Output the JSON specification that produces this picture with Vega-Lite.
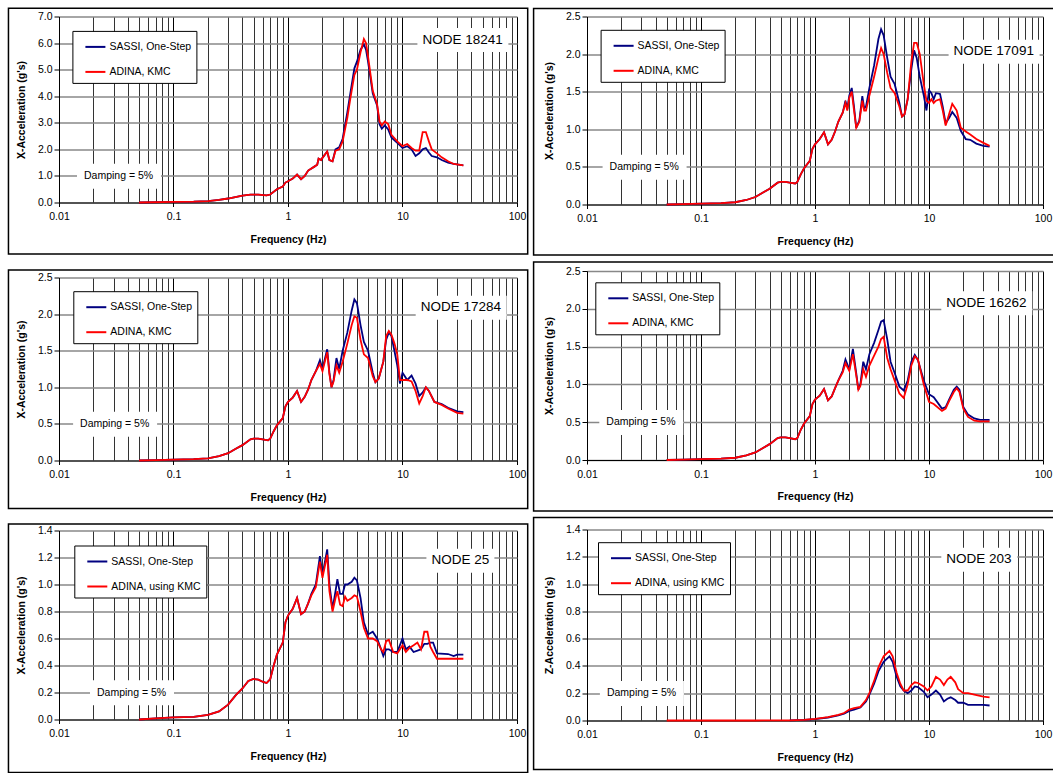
{
  "$schema": "https://vega.github.io/schema/vega-lite/v6.json",
  "background": "white",
  "padding": {"left": 7, "top": 6.5, "right": 0, "bottom": 0},
  "config": {
    "font": "Liberation Sans",
    "view": {"stroke": null},
    "axis": {"labelFont": "Liberation Sans", "labelFontSize": 10.5, "labelColor": "#000", "titleFont": "Liberation Sans", "titleFontSize": 10.5, "titleFontWeight": "bold", "titleColor": "#000", "domainColor": "#000", "domainWidth": 1, "tickColor": "#000", "labelFlush": false, "labelOverlap": false},
    "axisX": {"tickSize": 4, "labelPadding": 5, "titlePadding": 12, "gridWidth": 1},
    "axisY": {"tickSize": 5, "labelPadding": 2, "titlePadding": 11, "gridColor": "#888", "gridWidth": 1.5},
    "legend": {"labelFont": "Liberation Sans", "labelColor": "#000"}
  },
  "datasets": {
    "p1s": [{"f":0.05,"g":0},{"f":0.1,"g":0.02},{"f":0.15,"g":0.03},{"f":0.2,"g":0.05},{"f":0.25,"g":0.1},{"f":0.3,"g":0.15},{"f":0.4,"g":0.26},{"f":0.47,"g":0.3},{"f":0.55,"g":0.3},{"f":0.65,"g":0.27},{"f":0.7,"g":0.3},{"f":0.8,"g":0.5},{"f":0.9,"g":0.6},{"f":0.95,"g":0.75},{"f":1.0,"g":0.8},{"f":1.1,"g":0.9},{"f":1.2,"g":1.05},{"f":1.3,"g":0.88},{"f":1.4,"g":1.0},{"f":1.5,"g":1.2},{"f":1.7,"g":1.35},{"f":1.8,"g":1.42},{"f":1.85,"g":1.65},{"f":1.95,"g":1.6},{"f":2.0,"g":1.68},{"f":2.2,"g":1.92},{"f":2.3,"g":1.6},{"f":2.45,"g":1.55},{"f":2.6,"g":2.0},{"f":2.8,"g":2.08},{"f":3.0,"g":2.4},{"f":3.3,"g":3.4},{"f":3.5,"g":4.1},{"f":3.8,"g":5.05},{"f":4.0,"g":5.3},{"f":4.3,"g":5.75},{"f":4.6,"g":5.95},{"f":4.8,"g":5.75},{"f":5.0,"g":5.3},{"f":5.5,"g":4.1},{"f":6.0,"g":3.65},{"f":6.3,"g":2.95},{"f":6.6,"g":2.78},{"f":7.0,"g":2.9},{"f":7.5,"g":2.75},{"f":8.0,"g":2.45},{"f":9.0,"g":2.25},{"f":10,"g":2.05},{"f":11,"g":2.12},{"f":12,"g":2.0},{"f":13,"g":1.75},{"f":14,"g":1.85},{"f":15,"g":2.0},{"f":16,"g":2.05},{"f":17,"g":1.88},{"f":18,"g":1.75},{"f":20,"g":1.7},{"f":22,"g":1.6},{"f":25,"g":1.5},{"f":28,"g":1.45},{"f":34,"g":1.4}],
    "p1a": [{"f":0.05,"g":0},{"f":0.1,"g":0.02},{"f":0.15,"g":0.03},{"f":0.2,"g":0.05},{"f":0.25,"g":0.1},{"f":0.3,"g":0.15},{"f":0.4,"g":0.26},{"f":0.47,"g":0.3},{"f":0.55,"g":0.3},{"f":0.65,"g":0.27},{"f":0.7,"g":0.3},{"f":0.8,"g":0.5},{"f":0.9,"g":0.6},{"f":0.95,"g":0.75},{"f":1.0,"g":0.8},{"f":1.1,"g":0.9},{"f":1.2,"g":1.05},{"f":1.3,"g":0.88},{"f":1.4,"g":1.0},{"f":1.5,"g":1.2},{"f":1.7,"g":1.35},{"f":1.8,"g":1.42},{"f":1.85,"g":1.65},{"f":1.95,"g":1.6},{"f":2.0,"g":1.68},{"f":2.2,"g":1.92},{"f":2.3,"g":1.6},{"f":2.45,"g":1.55},{"f":2.6,"g":1.95},{"f":2.8,"g":2.0},{"f":3.0,"g":2.3},{"f":3.3,"g":3.2},{"f":3.5,"g":3.9},{"f":3.8,"g":4.8},{"f":4.0,"g":5.0},{"f":4.3,"g":5.65},{"f":4.6,"g":6.15},{"f":4.8,"g":6.0},{"f":5.0,"g":5.5},{"f":5.5,"g":4.2},{"f":6.0,"g":3.7},{"f":6.3,"g":3.05},{"f":6.6,"g":2.9},{"f":7.0,"g":3.05},{"f":7.5,"g":2.95},{"f":8.0,"g":2.55},{"f":9.0,"g":2.3},{"f":10,"g":2.12},{"f":11,"g":2.2},{"f":12,"g":2.05},{"f":13,"g":1.95},{"f":14,"g":1.95},{"f":15,"g":2.65},{"f":16,"g":2.65},{"f":17,"g":2.3},{"f":18,"g":2.0},{"f":20,"g":1.85},{"f":22,"g":1.7},{"f":25,"g":1.55},{"f":28,"g":1.45},{"f":34,"g":1.4}],
    "p2s": [{"f":0.05,"g":0},{"f":0.07,"g":0.005},{"f":0.1,"g":0.012},{"f":0.15,"g":0.018},{"f":0.2,"g":0.03},{"f":0.25,"g":0.06},{"f":0.3,"g":0.1},{"f":0.35,"g":0.16},{"f":0.4,"g":0.21},{"f":0.47,"g":0.29},{"f":0.5,"g":0.3},{"f":0.55,"g":0.3},{"f":0.6,"g":0.29},{"f":0.67,"g":0.28},{"f":0.7,"g":0.3},{"f":0.75,"g":0.4},{"f":0.8,"g":0.48},{"f":0.9,"g":0.58},{"f":0.95,"g":0.74},{"f":1.0,"g":0.8},{"f":1.1,"g":0.87},{"f":1.2,"g":0.96},{"f":1.3,"g":0.8},{"f":1.4,"g":0.86},{"f":1.5,"g":0.97},{"f":1.6,"g":1.1},{"f":1.75,"g":1.22},{"f":1.85,"g":1.38},{"f":1.92,"g":1.27},{"f":2.0,"g":1.45},{"f":2.1,"g":1.55},{"f":2.2,"g":1.3},{"f":2.3,"g":1.02},{"f":2.45,"g":1.12},{"f":2.6,"g":1.44},{"f":2.7,"g":1.28},{"f":2.8,"g":1.3},{"f":3.0,"g":1.55},{"f":3.3,"g":1.85},{"f":3.6,"g":2.2},{"f":3.8,"g":2.33},{"f":4.0,"g":2.25},{"f":4.3,"g":1.95},{"f":4.6,"g":1.7},{"f":5.0,"g":1.6},{"f":5.5,"g":1.35},{"f":5.8,"g":1.17},{"f":6.1,"g":1.2},{"f":6.5,"g":1.4},{"f":7.0,"g":1.8},{"f":7.4,"g":2.05},{"f":7.8,"g":1.95},{"f":8.3,"g":1.7},{"f":9.0,"g":1.45},{"f":9.5,"g":1.25},{"f":10,"g":1.52},{"f":10.5,"g":1.48},{"f":11,"g":1.4},{"f":11.5,"g":1.48},{"f":12.5,"g":1.47},{"f":13.2,"g":1.3},{"f":14,"g":1.08},{"f":15,"g":1.15},{"f":16,"g":1.23},{"f":17.5,"g":1.15},{"f":19,"g":0.98},{"f":21,"g":0.87},{"f":23,"g":0.86},{"f":26,"g":0.81},{"f":30,"g":0.78},{"f":34,"g":0.77}],
    "p2a": [{"f":0.05,"g":0},{"f":0.07,"g":0.005},{"f":0.1,"g":0.012},{"f":0.15,"g":0.018},{"f":0.2,"g":0.03},{"f":0.25,"g":0.06},{"f":0.3,"g":0.1},{"f":0.35,"g":0.16},{"f":0.4,"g":0.21},{"f":0.47,"g":0.29},{"f":0.5,"g":0.3},{"f":0.55,"g":0.3},{"f":0.6,"g":0.29},{"f":0.67,"g":0.28},{"f":0.7,"g":0.3},{"f":0.75,"g":0.4},{"f":0.8,"g":0.48},{"f":0.9,"g":0.58},{"f":0.95,"g":0.74},{"f":1.0,"g":0.8},{"f":1.1,"g":0.87},{"f":1.2,"g":0.96},{"f":1.3,"g":0.8},{"f":1.4,"g":0.86},{"f":1.5,"g":0.97},{"f":1.6,"g":1.1},{"f":1.75,"g":1.22},{"f":1.85,"g":1.35},{"f":1.92,"g":1.25},{"f":2.0,"g":1.42},{"f":2.1,"g":1.5},{"f":2.2,"g":1.25},{"f":2.3,"g":1.02},{"f":2.45,"g":1.1},{"f":2.6,"g":1.38},{"f":2.7,"g":1.25},{"f":2.8,"g":1.25},{"f":3.0,"g":1.45},{"f":3.3,"g":1.7},{"f":3.6,"g":1.95},{"f":3.8,"g":2.08},{"f":4.0,"g":2.0},{"f":4.3,"g":1.75},{"f":4.6,"g":1.55},{"f":5.0,"g":1.48},{"f":5.5,"g":1.3},{"f":5.8,"g":1.17},{"f":6.1,"g":1.2},{"f":6.5,"g":1.4},{"f":7.0,"g":1.9},{"f":7.4,"g":2.15},{"f":7.8,"g":2.15},{"f":8.3,"g":2.0},{"f":9.0,"g":1.6},{"f":9.5,"g":1.38},{"f":10,"g":1.35},{"f":10.5,"g":1.4},{"f":11,"g":1.35},{"f":11.5,"g":1.38},{"f":12.5,"g":1.4},{"f":13.2,"g":1.25},{"f":14,"g":1.05},{"f":15,"g":1.2},{"f":16,"g":1.34},{"f":17.5,"g":1.25},{"f":19,"g":1.02},{"f":21,"g":0.97},{"f":23,"g":0.93},{"f":26,"g":0.87},{"f":30,"g":0.82},{"f":34,"g":0.78}],
    "p3s": [{"f":0.05,"g":0},{"f":0.07,"g":0.005},{"f":0.1,"g":0.012},{"f":0.15,"g":0.018},{"f":0.2,"g":0.03},{"f":0.25,"g":0.06},{"f":0.3,"g":0.1},{"f":0.35,"g":0.16},{"f":0.4,"g":0.21},{"f":0.47,"g":0.29},{"f":0.5,"g":0.3},{"f":0.55,"g":0.3},{"f":0.6,"g":0.29},{"f":0.67,"g":0.275},{"f":0.7,"g":0.3},{"f":0.75,"g":0.4},{"f":0.8,"g":0.48},{"f":0.9,"g":0.58},{"f":0.95,"g":0.74},{"f":1.0,"g":0.8},{"f":1.1,"g":0.86},{"f":1.2,"g":0.95},{"f":1.3,"g":0.8},{"f":1.4,"g":0.87},{"f":1.5,"g":0.97},{"f":1.6,"g":1.1},{"f":1.75,"g":1.22},{"f":1.9,"g":1.37},{"f":2.0,"g":1.25},{"f":2.2,"g":1.52},{"f":2.3,"g":1.2},{"f":2.4,"g":1.0},{"f":2.5,"g":1.1},{"f":2.65,"g":1.4},{"f":2.8,"g":1.25},{"f":3.0,"g":1.5},{"f":3.3,"g":1.75},{"f":3.6,"g":2.05},{"f":3.8,"g":2.2},{"f":4.0,"g":2.15},{"f":4.3,"g":1.85},{"f":4.6,"g":1.62},{"f":5.0,"g":1.5},{"f":5.5,"g":1.2},{"f":5.8,"g":1.07},{"f":6.2,"g":1.12},{"f":6.8,"g":1.35},{"f":7.2,"g":1.65},{"f":7.6,"g":1.75},{"f":8.0,"g":1.7},{"f":8.5,"g":1.5},{"f":9.0,"g":1.3},{"f":9.5,"g":1.05},{"f":10,"g":1.2},{"f":11,"g":1.1},{"f":12,"g":1.16},{"f":13,"g":1.05},{"f":14,"g":0.88},{"f":15,"g":0.93},{"f":16,"g":1.0},{"f":17,"g":0.95},{"f":19,"g":0.8},{"f":22,"g":0.77},{"f":25,"g":0.72},{"f":30,"g":0.67},{"f":34,"g":0.66}],
    "p3a": [{"f":0.05,"g":0},{"f":0.07,"g":0.005},{"f":0.1,"g":0.012},{"f":0.15,"g":0.018},{"f":0.2,"g":0.03},{"f":0.25,"g":0.06},{"f":0.3,"g":0.1},{"f":0.35,"g":0.16},{"f":0.4,"g":0.21},{"f":0.47,"g":0.29},{"f":0.5,"g":0.3},{"f":0.55,"g":0.3},{"f":0.6,"g":0.29},{"f":0.67,"g":0.275},{"f":0.7,"g":0.3},{"f":0.75,"g":0.4},{"f":0.8,"g":0.48},{"f":0.9,"g":0.58},{"f":0.95,"g":0.74},{"f":1.0,"g":0.8},{"f":1.1,"g":0.86},{"f":1.2,"g":0.95},{"f":1.3,"g":0.8},{"f":1.4,"g":0.87},{"f":1.5,"g":0.97},{"f":1.6,"g":1.1},{"f":1.75,"g":1.22},{"f":1.9,"g":1.32},{"f":2.0,"g":1.22},{"f":2.2,"g":1.48},{"f":2.3,"g":1.18},{"f":2.4,"g":1.0},{"f":2.5,"g":1.08},{"f":2.65,"g":1.3},{"f":2.8,"g":1.2},{"f":3.0,"g":1.35},{"f":3.3,"g":1.6},{"f":3.6,"g":1.85},{"f":3.8,"g":1.97},{"f":4.0,"g":1.95},{"f":4.3,"g":1.65},{"f":4.6,"g":1.45},{"f":5.0,"g":1.4},{"f":5.5,"g":1.15},{"f":5.8,"g":1.07},{"f":6.2,"g":1.12},{"f":6.8,"g":1.35},{"f":7.2,"g":1.7},{"f":7.6,"g":1.77},{"f":8.0,"g":1.72},{"f":8.5,"g":1.6},{"f":9.0,"g":1.45},{"f":9.5,"g":1.1},{"f":10,"g":1.1},{"f":11,"g":1.1},{"f":12,"g":1.08},{"f":13,"g":0.95},{"f":14,"g":0.78},{"f":15,"g":0.88},{"f":16,"g":1.0},{"f":17,"g":0.95},{"f":19,"g":0.8},{"f":22,"g":0.76},{"f":25,"g":0.71},{"f":30,"g":0.65},{"f":34,"g":0.64}],
    "p4s": [{"f":0.05,"g":0},{"f":0.07,"g":0.005},{"f":0.1,"g":0.012},{"f":0.15,"g":0.018},{"f":0.2,"g":0.03},{"f":0.25,"g":0.06},{"f":0.3,"g":0.1},{"f":0.35,"g":0.16},{"f":0.4,"g":0.21},{"f":0.47,"g":0.29},{"f":0.5,"g":0.3},{"f":0.55,"g":0.3},{"f":0.6,"g":0.29},{"f":0.67,"g":0.275},{"f":0.7,"g":0.29},{"f":0.75,"g":0.4},{"f":0.8,"g":0.48},{"f":0.9,"g":0.58},{"f":0.95,"g":0.74},{"f":1.0,"g":0.8},{"f":1.1,"g":0.85},{"f":1.2,"g":0.94},{"f":1.3,"g":0.79},{"f":1.4,"g":0.84},{"f":1.5,"g":0.95},{"f":1.6,"g":1.05},{"f":1.75,"g":1.18},{"f":1.85,"g":1.33},{"f":2.0,"g":1.2},{"f":2.15,"g":1.47},{"f":2.3,"g":1.15},{"f":2.4,"g":0.93},{"f":2.5,"g":1.0},{"f":2.65,"g":1.3},{"f":2.8,"g":1.2},{"f":3.0,"g":1.4},{"f":3.3,"g":1.55},{"f":3.6,"g":1.72},{"f":3.8,"g":1.83},{"f":4.0,"g":1.85},{"f":4.3,"g":1.6},{"f":4.6,"g":1.3},{"f":5.0,"g":1.15},{"f":5.5,"g":0.97},{"f":6.0,"g":0.92},{"f":6.5,"g":1.05},{"f":7.0,"g":1.3},{"f":7.5,"g":1.39},{"f":8.0,"g":1.32},{"f":9.0,"g":1.05},{"f":10,"g":0.87},{"f":11,"g":0.83},{"f":13,"g":0.68},{"f":14,"g":0.7},{"f":15,"g":0.8},{"f":16.5,"g":0.93},{"f":17.5,"g":0.97},{"f":18.5,"g":0.93},{"f":20,"g":0.7},{"f":22,"g":0.6},{"f":25,"g":0.55},{"f":28,"g":0.53},{"f":34,"g":0.53}],
    "p4a": [{"f":0.05,"g":0},{"f":0.07,"g":0.005},{"f":0.1,"g":0.012},{"f":0.15,"g":0.018},{"f":0.2,"g":0.03},{"f":0.25,"g":0.06},{"f":0.3,"g":0.1},{"f":0.35,"g":0.16},{"f":0.4,"g":0.21},{"f":0.47,"g":0.29},{"f":0.5,"g":0.3},{"f":0.55,"g":0.3},{"f":0.6,"g":0.29},{"f":0.67,"g":0.275},{"f":0.7,"g":0.29},{"f":0.75,"g":0.4},{"f":0.8,"g":0.48},{"f":0.9,"g":0.58},{"f":0.95,"g":0.74},{"f":1.0,"g":0.8},{"f":1.1,"g":0.85},{"f":1.2,"g":0.94},{"f":1.3,"g":0.79},{"f":1.4,"g":0.84},{"f":1.5,"g":0.95},{"f":1.6,"g":1.05},{"f":1.75,"g":1.16},{"f":1.85,"g":1.28},{"f":2.0,"g":1.18},{"f":2.15,"g":1.4},{"f":2.3,"g":1.12},{"f":2.4,"g":0.93},{"f":2.5,"g":0.98},{"f":2.65,"g":1.2},{"f":2.8,"g":1.1},{"f":3.0,"g":1.25},{"f":3.3,"g":1.38},{"f":3.6,"g":1.5},{"f":3.8,"g":1.6},{"f":4.0,"g":1.63},{"f":4.3,"g":1.35},{"f":4.6,"g":1.2},{"f":5.0,"g":1.05},{"f":5.5,"g":0.88},{"f":6.0,"g":0.82},{"f":6.5,"g":1.0},{"f":7.0,"g":1.25},{"f":7.5,"g":1.37},{"f":8.0,"g":1.33},{"f":9.0,"g":1.0},{"f":10,"g":0.77},{"f":11,"g":0.74},{"f":13,"g":0.65},{"f":14,"g":0.68},{"f":15,"g":0.78},{"f":16.5,"g":0.9},{"f":17.5,"g":0.95},{"f":18.5,"g":0.9},{"f":20,"g":0.68},{"f":22,"g":0.57},{"f":25,"g":0.52},{"f":28,"g":0.51},{"f":34,"g":0.51}],
    "p5s": [{"f":0.05,"g":0},{"f":0.07,"g":0.008},{"f":0.1,"g":0.015},{"f":0.15,"g":0.02},{"f":0.2,"g":0.035},{"f":0.25,"g":0.06},{"f":0.3,"g":0.11},{"f":0.35,"g":0.18},{"f":0.4,"g":0.23},{"f":0.45,"g":0.285},{"f":0.5,"g":0.3},{"f":0.55,"g":0.295},{"f":0.6,"g":0.28},{"f":0.65,"g":0.27},{"f":0.7,"g":0.3},{"f":0.75,"g":0.4},{"f":0.8,"g":0.48},{"f":0.9,"g":0.57},{"f":0.95,"g":0.72},{"f":1.0,"g":0.77},{"f":1.1,"g":0.82},{"f":1.2,"g":0.9},{"f":1.3,"g":0.78},{"f":1.4,"g":0.8},{"f":1.5,"g":0.86},{"f":1.6,"g":0.93},{"f":1.75,"g":1.0},{"f":1.9,"g":1.21},{"f":2.0,"g":1.07},{"f":2.2,"g":1.26},{"f":2.3,"g":1.0},{"f":2.45,"g":0.82},{"f":2.6,"g":0.95},{"f":2.7,"g":1.04},{"f":2.85,"g":0.93},{"f":3.0,"g":0.93},{"f":3.15,"g":1.0},{"f":3.3,"g":1.0},{"f":3.6,"g":1.02},{"f":3.8,"g":1.05},{"f":4.0,"g":1.03},{"f":4.3,"g":0.9},{"f":4.6,"g":0.72},{"f":5.0,"g":0.63},{"f":5.5,"g":0.65},{"f":6.0,"g":0.6},{"f":6.5,"g":0.52},{"f":6.8,"g":0.47},{"f":7.2,"g":0.52},{"f":7.6,"g":0.52},{"f":8.3,"g":0.5},{"f":9.0,"g":0.5},{"f":10,"g":0.6},{"f":10.7,"g":0.52},{"f":11.5,"g":0.54},{"f":12.5,"g":0.5},{"f":13.5,"g":0.51},{"f":14.5,"g":0.52},{"f":15.5,"g":0.56},{"f":16.5,"g":0.56},{"f":17.5,"g":0.57},{"f":18.5,"g":0.57},{"f":20,"g":0.49},{"f":25,"g":0.485},{"f":28,"g":0.47},{"f":30,"g":0.48},{"f":34,"g":0.48}],
    "p5a": [{"f":0.05,"g":0},{"f":0.07,"g":0.008},{"f":0.1,"g":0.015},{"f":0.15,"g":0.02},{"f":0.2,"g":0.035},{"f":0.25,"g":0.06},{"f":0.3,"g":0.11},{"f":0.35,"g":0.18},{"f":0.4,"g":0.23},{"f":0.45,"g":0.285},{"f":0.5,"g":0.3},{"f":0.55,"g":0.295},{"f":0.6,"g":0.28},{"f":0.65,"g":0.27},{"f":0.7,"g":0.3},{"f":0.75,"g":0.4},{"f":0.8,"g":0.48},{"f":0.9,"g":0.57},{"f":0.95,"g":0.72},{"f":1.0,"g":0.77},{"f":1.1,"g":0.82},{"f":1.2,"g":0.9},{"f":1.3,"g":0.78},{"f":1.4,"g":0.8},{"f":1.5,"g":0.86},{"f":1.6,"g":0.92},{"f":1.75,"g":0.98},{"f":1.9,"g":1.17},{"f":2.0,"g":1.05},{"f":2.2,"g":1.22},{"f":2.3,"g":0.95},{"f":2.45,"g":0.8},{"f":2.6,"g":0.9},{"f":2.7,"g":0.95},{"f":2.85,"g":0.85},{"f":3.0,"g":0.84},{"f":3.15,"g":0.91},{"f":3.3,"g":0.88},{"f":3.6,"g":0.9},{"f":3.8,"g":0.92},{"f":4.0,"g":0.91},{"f":4.3,"g":0.8},{"f":4.6,"g":0.68},{"f":5.0,"g":0.6},{"f":5.5,"g":0.6},{"f":6.0,"g":0.58},{"f":6.5,"g":0.52},{"f":6.8,"g":0.5},{"f":7.2,"g":0.58},{"f":7.6,"g":0.59},{"f":8.3,"g":0.5},{"f":9.0,"g":0.49},{"f":10,"g":0.55},{"f":10.7,"g":0.5},{"f":11.5,"g":0.53},{"f":12.5,"g":0.55},{"f":13.5,"g":0.57},{"f":14.5,"g":0.52},{"f":15.5,"g":0.65},{"f":16.5,"g":0.65},{"f":17.5,"g":0.54},{"f":18.5,"g":0.5},{"f":20,"g":0.45},{"f":25,"g":0.45},{"f":28,"g":0.45},{"f":30,"g":0.45},{"f":34,"g":0.45}],
    "p6s": [{"f":0.6,"g":0.001},{"f":0.8,"g":0.005},{"f":1.0,"g":0.01},{"f":1.3,"g":0.022},{"f":1.6,"g":0.038},{"f":1.8,"g":0.05},{"f":2.0,"g":0.07},{"f":2.2,"g":0.08},{"f":2.5,"g":0.095},{"f":2.8,"g":0.14},{"f":3.0,"g":0.19},{"f":3.3,"g":0.27},{"f":3.6,"g":0.36},{"f":4.0,"g":0.43},{"f":4.5,"g":0.47},{"f":4.8,"g":0.43},{"f":5.2,"g":0.32},{"f":5.6,"g":0.25},{"f":6.0,"g":0.22},{"f":6.5,"g":0.2},{"f":7.0,"g":0.22},{"f":7.5,"g":0.25},{"f":8.0,"g":0.245},{"f":9.0,"g":0.21},{"f":9.7,"g":0.17},{"f":10.5,"g":0.19},{"f":11.5,"g":0.22},{"f":12.5,"g":0.19},{"f":13.5,"g":0.14},{"f":14.5,"g":0.16},{"f":15.5,"g":0.17},{"f":17,"g":0.15},{"f":18,"g":0.13},{"f":20,"g":0.13},{"f":22,"g":0.115},{"f":25,"g":0.115},{"f":30,"g":0.115},{"f":34,"g":0.11}],
    "p6a": [{"f":0.05,"g":0},{"f":0.3,"g":0},{"f":0.6,"g":0.001},{"f":0.8,"g":0.005},{"f":1.0,"g":0.012},{"f":1.3,"g":0.025},{"f":1.6,"g":0.042},{"f":1.8,"g":0.055},{"f":2.0,"g":0.08},{"f":2.2,"g":0.09},{"f":2.5,"g":0.1},{"f":2.8,"g":0.15},{"f":3.0,"g":0.2},{"f":3.3,"g":0.29},{"f":3.6,"g":0.39},{"f":4.0,"g":0.47},{"f":4.5,"g":0.51},{"f":4.8,"g":0.47},{"f":5.2,"g":0.35},{"f":5.6,"g":0.27},{"f":6.0,"g":0.22},{"f":6.5,"g":0.22},{"f":7.0,"g":0.26},{"f":7.5,"g":0.28},{"f":8.0,"g":0.275},{"f":9.0,"g":0.25},{"f":9.7,"g":0.22},{"f":10.5,"g":0.25},{"f":11.5,"g":0.32},{"f":12.5,"g":0.3},{"f":13.5,"g":0.26},{"f":14.5,"g":0.3},{"f":15.5,"g":0.32},{"f":17,"g":0.28},{"f":18,"g":0.23},{"f":20,"g":0.2},{"f":22,"g":0.2},{"f":25,"g":0.19},{"f":30,"g":0.175},{"f":34,"g":0.17}]
  },
  "resolve": {"scale": {"color": "independent", "opacity": "independent", "strokeWidth": "independent"}, "legend": {"color": "independent", "opacity": "independent", "strokeWidth": "independent"}},
  "spacing": 3,
  "hconcat": [
    {
      "spacing": 13,
      "resolve": {"scale": {"color": "independent", "opacity": "independent", "strokeWidth": "independent"}, "legend": {"color": "independent", "opacity": "independent", "strokeWidth": "independent"}},
      "vconcat": [
        {
          "width": 458, "height": 186,
          "layer": [
            {"data": {"name": "p1s"}, "mark": {"type": "line", "strokeWidth": 1.8},
             "encoding": {
               "x": {"field": "f", "type": "quantitative", "scale": {"type": "log", "domain": [0.01, 100]}, "axis": {"title": "Frequency (Hz)", "values": [0.01,0.02,0.03,0.04,0.05,0.06,0.07,0.08,0.09,0.1,0.2,0.3,0.4,0.5,0.6,0.7,0.8,0.9,1,2,3,4,5,6,7,8,9,10,20,30,40,50,60,70,80,90,100], "format": "~g", "labelExpr": "indexof([0.01,0.1,1,10,100], datum.value) >= 0 ? datum.label : ''", "tickOpacity": {"condition": {"test": "indexof([0.01,0.1,1,10,100], datum.value) >= 0", "value": 1}, "value": 0}, "gridColor": {"condition": {"test": "indexof([0.01,0.1,1,10,100], datum.value) >= 0", "value": "#000"}, "value": "#333"}}},
               "y": {"field": "g", "type": "quantitative", "scale": {"domain": [0, 7]}, "axis": {"title": "X-Acceleration (g's)", "values": [0,1,2,3,4,5,6,7], "tickCount": 10, "format": ".1f"}},
               "color": {"datum": "SASSI, One-Step", "scale": {"domain": ["SASSI, One-Step", "ADINA, KMC"], "range": ["#000080", "#ff0000"]}, "legend": {"title": null, "orient": "none", "legendX": 13.4, "legendY": 14.4, "fillColor": "#fff", "strokeColor": "#000", "padding": 5, "symbolOffset": 7, "symbolType": "stroke", "symbolSize": 400, "symbolStrokeWidth": 2, "labelFontSize": 10.5, "labelOffset": 3, "rowPadding": 8, "labelLimit": 300}}
             }},
            {"data": {"name": "p1a"}, "mark": {"type": "line", "strokeWidth": 1.8},
             "encoding": {
               "x": {"field": "f", "type": "quantitative", "scale": {"type": "log", "domain": [0.01, 100]}},
               "y": {"field": "g", "type": "quantitative", "scale": {"domain": [0, 7]}},
               "color": {"datum": "ADINA, KMC"}
             }},
            {"data": {"values": [{}]}, "mark": {"type": "rect", "fill": "transparent", "stroke": "#000"},
             "encoding": {
               "x": {"datum": 0.003619, "type": "quantitative", "scale": {"type": "log", "domain": [0.01, 100]}},
               "x2": {"datum": 124},
               "y": {"datum": -1.9344, "type": "quantitative", "scale": {"domain": [0, 7]}},
               "y2": {"datum": 7.3124},
               "strokeWidth": {"datum": "Damping = 5%", "scale": {"range": [1.5, 1.5]}, "legend": {"title": null, "orient": "none", "legendX": 18, "legendY": 147.2, "fillColor": "#fff", "padding": 7, "symbolOpacity": 0, "symbolSize": 0, "symbolStrokeWidth": 0, "labelOffset": -10.5, "labelFontSize": 10.5, "labelLimit": 300}}
             }},
            {"data": {"values": [{}]}, "mark": {"type": "text", "text": ""},
             "encoding": {
               "opacity": {"datum": "NODE 18241", "scale": {"range": [1, 1]}, "legend": {"title": null, "orient": "none", "legendX": 358.4, "legendY": 11.6, "fillColor": "#fff", "padding": 5, "symbolOpacity": 0, "symbolSize": 0, "symbolStrokeWidth": 0, "labelOffset": -13.5, "labelFontSize": 13.5, "labelLimit": 300}}
             }}
          ]
        },
        {
          "width": 458, "height": 183,
          "layer": [
            {"data": {"name": "p3s"}, "mark": {"type": "line", "strokeWidth": 1.8},
             "encoding": {
               "x": {"field": "f", "type": "quantitative", "scale": {"type": "log", "domain": [0.01, 100]}, "axis": {"title": "Frequency (Hz)", "values": [0.01,0.02,0.03,0.04,0.05,0.06,0.07,0.08,0.09,0.1,0.2,0.3,0.4,0.5,0.6,0.7,0.8,0.9,1,2,3,4,5,6,7,8,9,10,20,30,40,50,60,70,80,90,100], "format": "~g", "labelExpr": "indexof([0.01,0.1,1,10,100], datum.value) >= 0 ? datum.label : ''", "tickOpacity": {"condition": {"test": "indexof([0.01,0.1,1,10,100], datum.value) >= 0", "value": 1}, "value": 0}, "gridColor": {"condition": {"test": "indexof([0.01,0.1,1,10,100], datum.value) >= 0", "value": "#000"}, "value": "#333"}}},
               "y": {"field": "g", "type": "quantitative", "scale": {"domain": [0, 2.5]}, "axis": {"title": "X-Acceleration (g's)", "values": [0,0.5,1,1.5,2,2.5], "tickCount": 10, "format": ".1f"}},
               "color": {"datum": "SASSI, One-Step", "scale": {"domain": ["SASSI, One-Step", "ADINA, KMC"], "range": ["#000080", "#ff0000"]}, "legend": {"title": null, "orient": "none", "legendX": 14.3, "legendY": 13.7, "fillColor": "#fff", "strokeColor": "#000", "padding": 5, "symbolOffset": 7, "symbolType": "stroke", "symbolSize": 400, "symbolStrokeWidth": 2, "labelFontSize": 10.5, "labelOffset": 3, "rowPadding": 8, "labelLimit": 300}}
             }},
            {"data": {"name": "p3a"}, "mark": {"type": "line", "strokeWidth": 1.8},
             "encoding": {
               "x": {"field": "f", "type": "quantitative", "scale": {"type": "log", "domain": [0.01, 100]}},
               "y": {"field": "g", "type": "quantitative", "scale": {"domain": [0, 2.5]}},
               "color": {"datum": "ADINA, KMC"}
             }},
            {"data": {"values": [{}]}, "mark": {"type": "rect", "fill": "transparent", "stroke": "#000"},
             "encoding": {
               "x": {"datum": 0.003619, "type": "quantitative", "scale": {"type": "log", "domain": [0.01, 100]}},
               "x2": {"datum": 124},
               "y": {"datum": -0.6557, "type": "quantitative", "scale": {"domain": [0, 2.5]}},
               "y2": {"datum": 2.6025},
               "strokeWidth": {"datum": "Damping = 5%", "scale": {"range": [1.5, 1.5]}, "legend": {"title": null, "orient": "none", "legendX": 14.1, "legendY": 134.15, "fillColor": "#fff", "padding": 7, "symbolOpacity": 0, "symbolSize": 0, "symbolStrokeWidth": 0, "labelOffset": -10.5, "labelFontSize": 10.5, "labelLimit": 300}}
             }},
            {"data": {"values": [{}]}, "mark": {"type": "text", "text": ""},
             "encoding": {
               "opacity": {"datum": "NODE 17284", "scale": {"range": [1, 1]}, "legend": {"title": null, "orient": "none", "legendX": 356.7, "legendY": 18.2, "fillColor": "#fff", "padding": 5, "symbolOpacity": 0, "symbolSize": 0, "symbolStrokeWidth": 0, "labelOffset": -13.5, "labelFontSize": 13.5, "labelLimit": 300}}
             }}
          ]
        },
        {
          "width": 458, "height": 189,
          "layer": [
            {"data": {"name": "p5s"}, "mark": {"type": "line", "strokeWidth": 1.8},
             "encoding": {
               "x": {"field": "f", "type": "quantitative", "scale": {"type": "log", "domain": [0.01, 100]}, "axis": {"title": "Frequency (Hz)", "values": [0.01,0.02,0.03,0.04,0.05,0.06,0.07,0.08,0.09,0.1,0.2,0.3,0.4,0.5,0.6,0.7,0.8,0.9,1,2,3,4,5,6,7,8,9,10,20,30,40,50,60,70,80,90,100], "format": "~g", "labelExpr": "indexof([0.01,0.1,1,10,100], datum.value) >= 0 ? datum.label : ''", "tickOpacity": {"condition": {"test": "indexof([0.01,0.1,1,10,100], datum.value) >= 0", "value": 1}, "value": 0}, "gridColor": {"condition": {"test": "indexof([0.01,0.1,1,10,100], datum.value) >= 0", "value": "#000"}, "value": "#333"}}},
               "y": {"field": "g", "type": "quantitative", "scale": {"domain": [0, 1.4]}, "axis": {"title": "X-Acceleration (g's)", "values": [0,0.2,0.4,0.6,0.8,1,1.2,1.4], "tickCount": 10, "format": ".1f"}},
               "color": {"datum": "SASSI, One-Step", "scale": {"domain": ["SASSI, One-Step", "ADINA, using KMC"], "range": ["#000080", "#ff0000"]}, "legend": {"title": null, "orient": "none", "legendX": 15.3, "legendY": 15, "fillColor": "#fff", "strokeColor": "#000", "padding": 5, "symbolOffset": 7, "symbolType": "stroke", "symbolSize": 400, "symbolStrokeWidth": 2, "labelFontSize": 10.5, "labelOffset": 3, "rowPadding": 8, "labelLimit": 300}}
             }},
            {"data": {"name": "p5a"}, "mark": {"type": "line", "strokeWidth": 1.8},
             "encoding": {
               "x": {"field": "f", "type": "quantitative", "scale": {"type": "log", "domain": [0.01, 100]}},
               "y": {"field": "g", "type": "quantitative", "scale": {"domain": [0, 1.4]}},
               "color": {"datum": "ADINA, using KMC"}
             }},
            {"data": {"values": [{}]}, "mark": {"type": "rect", "fill": "transparent", "stroke": "#000"},
             "encoding": {
               "x": {"datum": 0.003619, "type": "quantitative", "scale": {"type": "log", "domain": [0.01, 100]}},
               "x2": {"datum": 124},
               "y": {"datum": -0.3926, "type": "quantitative", "scale": {"domain": [0, 1.4]}},
               "y2": {"datum": 1.4481},
               "strokeWidth": {"datum": "Damping = 5%", "scale": {"range": [1.5, 1.5]}, "legend": {"title": null, "orient": "none", "legendX": 31, "legendY": 149.75, "fillColor": "#fff", "padding": 7, "symbolOpacity": 0, "symbolSize": 0, "symbolStrokeWidth": 0, "labelOffset": -10.5, "labelFontSize": 10.5, "labelLimit": 300}}
             }},
            {"data": {"values": [{}]}, "mark": {"type": "text", "text": ""},
             "encoding": {
               "opacity": {"datum": "NODE 25", "scale": {"range": [1, 1]}, "legend": {"title": null, "orient": "none", "legendX": 367.4, "legendY": 18.2, "fillColor": "#fff", "padding": 5, "symbolOpacity": 0, "symbolSize": 0, "symbolStrokeWidth": 0, "labelOffset": -13.5, "labelFontSize": 13.5, "labelLimit": 300}}
             }}
          ]
        }
      ]
    },
    {
      "spacing": 4.5,
      "resolve": {"scale": {"color": "independent", "opacity": "independent", "strokeWidth": "independent"}, "legend": {"color": "independent", "opacity": "independent", "strokeWidth": "independent"}},
      "vconcat": [
        {
          "width": 456, "height": 188,
          "layer": [
            {"data": {"name": "p2s"}, "mark": {"type": "line", "strokeWidth": 1.8},
             "encoding": {
               "x": {"field": "f", "type": "quantitative", "scale": {"type": "log", "domain": [0.01, 100]}, "axis": {"title": "Frequency (Hz)", "values": [0.01,0.02,0.03,0.04,0.05,0.06,0.07,0.08,0.09,0.1,0.2,0.3,0.4,0.5,0.6,0.7,0.8,0.9,1,2,3,4,5,6,7,8,9,10,20,30,40,50,60,70,80,90,100], "format": "~g", "labelExpr": "indexof([0.01,0.1,1,10,100], datum.value) >= 0 ? datum.label : ''", "tickOpacity": {"condition": {"test": "indexof([0.01,0.1,1,10,100], datum.value) >= 0", "value": 1}, "value": 0}, "gridColor": {"condition": {"test": "indexof([0.01,0.1,1,10,100], datum.value) >= 0", "value": "#000"}, "value": "#333"}}},
               "y": {"field": "g", "type": "quantitative", "scale": {"domain": [0, 2.5]}, "axis": {"title": "X-Acceleration (g's)", "values": [0,0.5,1,1.5,2,2.5], "tickCount": 10, "format": ".1f"}},
               "color": {"datum": "SASSI, One-Step", "scale": {"domain": ["SASSI, One-Step", "ADINA, KMC"], "range": ["#000080", "#ff0000"]}, "legend": {"title": null, "orient": "none", "legendX": 13.6, "legendY": 13.3, "fillColor": "#fff", "strokeColor": "#000", "padding": 5, "symbolOffset": 7, "symbolType": "stroke", "symbolSize": 400, "symbolStrokeWidth": 2, "labelFontSize": 10.5, "labelOffset": 3, "rowPadding": 8, "labelLimit": 300}}
             }},
            {"data": {"name": "p2a"}, "mark": {"type": "line", "strokeWidth": 1.8},
             "encoding": {
               "x": {"field": "f", "type": "quantitative", "scale": {"type": "log", "domain": [0.01, 100]}},
               "y": {"field": "g", "type": "quantitative", "scale": {"domain": [0, 2.5]}},
               "color": {"datum": "ADINA, KMC"}
             }},
            {"data": {"values": [{}]}, "mark": {"type": "rect", "fill": "transparent", "stroke": "#000"},
             "encoding": {
               "x": {"datum": 0.0034, "type": "quantitative", "scale": {"type": "log", "domain": [0.01, 100]}},
               "x2": {"datum": 140},
               "y": {"datum": -0.6702, "type": "quantitative", "scale": {"domain": [0, 2.5]}},
               "y2": {"datum": 2.6064},
               "strokeWidth": {"datum": "Damping = 5%", "scale": {"range": [1.5, 1.5]}, "legend": {"title": null, "orient": "none", "legendX": 15.6, "legendY": 138.15, "fillColor": "#fff", "padding": 7, "symbolOpacity": 0, "symbolSize": 0, "symbolStrokeWidth": 0, "labelOffset": -10.5, "labelFontSize": 10.5, "labelLimit": 300}}
             }},
            {"data": {"values": [{}]}, "mark": {"type": "text", "text": ""},
             "encoding": {
               "opacity": {"datum": "NODE 17091", "scale": {"range": [1, 1]}, "legend": {"title": null, "orient": "none", "legendX": 361.6, "legendY": 23.2, "fillColor": "#fff", "padding": 5, "symbolOpacity": 0, "symbolSize": 0, "symbolStrokeWidth": 0, "labelOffset": -13.5, "labelFontSize": 13.5, "labelLimit": 300}}
             }}
          ]
        },
        {
          "width": 456, "height": 189,
          "layer": [
            {"data": {"name": "p4s"}, "mark": {"type": "line", "strokeWidth": 1.8},
             "encoding": {
               "x": {"field": "f", "type": "quantitative", "scale": {"type": "log", "domain": [0.01, 100]}, "axis": {"title": "Frequency (Hz)", "values": [0.01,0.02,0.03,0.04,0.05,0.06,0.07,0.08,0.09,0.1,0.2,0.3,0.4,0.5,0.6,0.7,0.8,0.9,1,2,3,4,5,6,7,8,9,10,20,30,40,50,60,70,80,90,100], "format": "~g", "labelExpr": "indexof([0.01,0.1,1,10,100], datum.value) >= 0 ? datum.label : ''", "tickOpacity": {"condition": {"test": "indexof([0.01,0.1,1,10,100], datum.value) >= 0", "value": 1}, "value": 0}, "gridColor": {"condition": {"test": "indexof([0.01,0.1,1,10,100], datum.value) >= 0", "value": "#000"}, "value": "#333"}}},
               "y": {"field": "g", "type": "quantitative", "scale": {"domain": [0, 2.5]}, "axis": {"title": "X-Acceleration (g's)", "values": [0,0.5,1,1.5,2,2.5], "tickCount": 10, "format": ".1f"}},
               "color": {"datum": "SASSI, One-Step", "scale": {"domain": ["SASSI, One-Step", "ADINA, KMC"], "range": ["#000080", "#ff0000"]}, "legend": {"title": null, "orient": "none", "legendX": 8.3, "legendY": 11.3, "fillColor": "#fff", "strokeColor": "#000", "padding": 5, "symbolOffset": 7, "symbolType": "stroke", "symbolSize": 400, "symbolStrokeWidth": 2, "labelFontSize": 10.5, "labelOffset": 3, "rowPadding": 8, "labelLimit": 300}}
             }},
            {"data": {"name": "p4a"}, "mark": {"type": "line", "strokeWidth": 1.8},
             "encoding": {
               "x": {"field": "f", "type": "quantitative", "scale": {"type": "log", "domain": [0.01, 100]}},
               "y": {"field": "g", "type": "quantitative", "scale": {"domain": [0, 2.5]}},
               "color": {"datum": "ADINA, KMC"}
             }},
            {"data": {"values": [{}]}, "mark": {"type": "rect", "fill": "transparent", "stroke": "#000"},
             "encoding": {
               "x": {"datum": 0.0034, "type": "quantitative", "scale": {"type": "log", "domain": [0.01, 100]}},
               "x2": {"datum": 140},
               "y": {"datum": -0.6746, "type": "quantitative", "scale": {"domain": [0, 2.5]}},
               "y2": {"datum": 2.619},
               "strokeWidth": {"datum": "Damping = 5%", "scale": {"range": [1.5, 1.5]}, "legend": {"title": null, "orient": "none", "legendX": 12.3, "legendY": 138.95, "fillColor": "#fff", "padding": 7, "symbolOpacity": 0, "symbolSize": 0, "symbolStrokeWidth": 0, "labelOffset": -10.5, "labelFontSize": 10.5, "labelLimit": 300}}
             }},
            {"data": {"values": [{}]}, "mark": {"type": "text", "text": ""},
             "encoding": {
               "opacity": {"datum": "NODE 16262", "scale": {"range": [1, 1]}, "legend": {"title": null, "orient": "none", "legendX": 354.3, "legendY": 20.2, "fillColor": "#fff", "padding": 5, "symbolOpacity": 0, "symbolSize": 0, "symbolStrokeWidth": 0, "labelOffset": -13.5, "labelFontSize": 13.5, "labelLimit": 300}}
             }}
          ]
        },
        {
          "width": 456, "height": 191,
          "layer": [
            {"data": {"name": "p6s"}, "mark": {"type": "line", "strokeWidth": 1.8},
             "encoding": {
               "x": {"field": "f", "type": "quantitative", "scale": {"type": "log", "domain": [0.01, 100]}, "axis": {"title": "Frequency (Hz)", "values": [0.01,0.02,0.03,0.04,0.05,0.06,0.07,0.08,0.09,0.1,0.2,0.3,0.4,0.5,0.6,0.7,0.8,0.9,1,2,3,4,5,6,7,8,9,10,20,30,40,50,60,70,80,90,100], "format": "~g", "labelExpr": "indexof([0.01,0.1,1,10,100], datum.value) >= 0 ? datum.label : ''", "tickOpacity": {"condition": {"test": "indexof([0.01,0.1,1,10,100], datum.value) >= 0", "value": 1}, "value": 0}, "gridColor": {"condition": {"test": "indexof([0.01,0.1,1,10,100], datum.value) >= 0", "value": "#000"}, "value": "#333"}}},
               "y": {"field": "g", "type": "quantitative", "scale": {"domain": [0, 1.4]}, "axis": {"title": "Z-Acceleration (g's)", "values": [0,0.2,0.4,0.6,0.8,1,1.2,1.4], "tickCount": 10, "format": ".1f"}},
               "color": {"datum": "SASSI, One-Step", "scale": {"domain": ["SASSI, One-Step", "ADINA, using KMC"], "range": ["#000080", "#ff0000"]}, "legend": {"title": null, "orient": "none", "legendX": 11, "legendY": 12.7, "fillColor": "#fff", "strokeColor": "#000", "padding": 5, "symbolOffset": 7, "symbolType": "stroke", "symbolSize": 400, "symbolStrokeWidth": 2, "labelFontSize": 10.5, "labelOffset": 3, "rowPadding": 8, "labelLimit": 300}}
             }},
            {"data": {"name": "p6a"}, "mark": {"type": "line", "strokeWidth": 1.8},
             "encoding": {
               "x": {"field": "f", "type": "quantitative", "scale": {"type": "log", "domain": [0.01, 100]}},
               "y": {"field": "g", "type": "quantitative", "scale": {"domain": [0, 1.4]}},
               "color": {"datum": "ADINA, using KMC"}
             }},
            {"data": {"values": [{}]}, "mark": {"type": "rect", "fill": "transparent", "stroke": "#000"},
             "encoding": {
               "x": {"datum": 0.0034, "type": "quantitative", "scale": {"type": "log", "domain": [0.01, 100]}},
               "x2": {"datum": 140},
               "y": {"datum": -0.3592, "type": "quantitative", "scale": {"domain": [0, 1.4]}},
               "y2": {"datum": 1.488},
               "strokeWidth": {"datum": "Damping = 5%", "scale": {"range": [1.5, 1.5]}, "legend": {"title": null, "orient": "none", "legendX": 12.9, "legendY": 151.5, "fillColor": "#fff", "padding": 7, "symbolOpacity": 0, "symbolSize": 0, "symbolStrokeWidth": 0, "labelOffset": -10.5, "labelFontSize": 10.5, "labelLimit": 300}}
             }},
            {"data": {"values": [{}]}, "mark": {"type": "text", "text": ""},
             "encoding": {
               "opacity": {"datum": "NODE 203", "scale": {"range": [1, 1]}, "legend": {"title": null, "orient": "none", "legendX": 354.3, "legendY": 18.2, "fillColor": "#fff", "padding": 5, "symbolOpacity": 0, "symbolSize": 0, "symbolStrokeWidth": 0, "labelOffset": -13.5, "labelFontSize": 13.5, "labelLimit": 300}}
             }}
          ]
        }
      ]
    }
  ]
}
